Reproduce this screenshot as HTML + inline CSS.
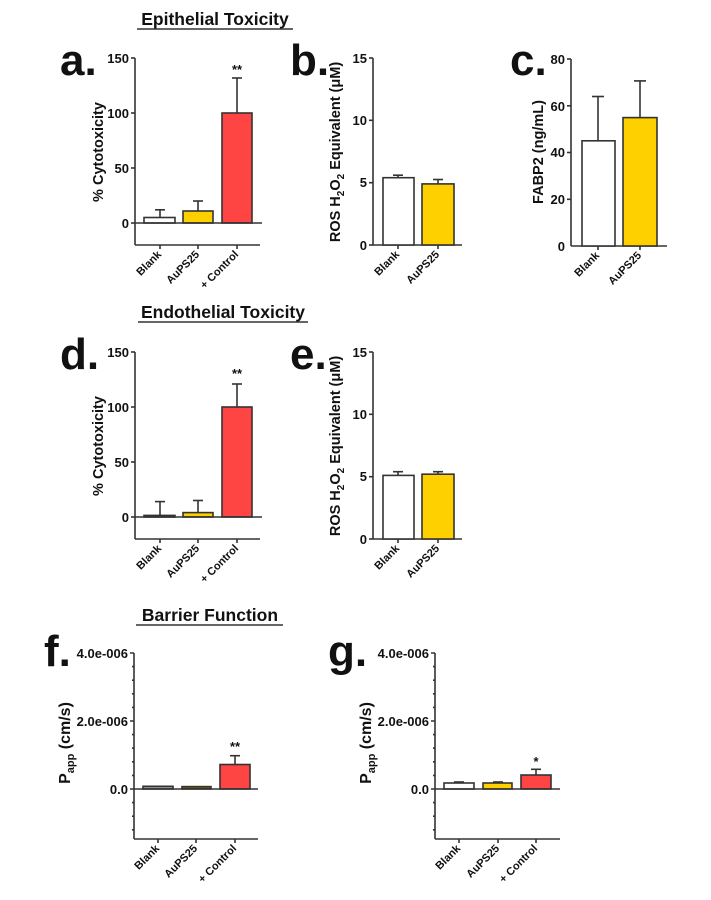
<!DOCTYPE html>
<html><head><meta charset="utf-8"><style>
body{margin:0;background:#fff}
svg{display:block}
text{font-family:"Liberation Sans",sans-serif;font-weight:bold;fill:#111}
.t{font-size:13px}
.x{font-size:11px}
.lab{font-size:44px}
.yt{font-size:14.5px}
.ttl{font-size:17.5px}
line,path,rect{stroke:#333;stroke-width:1.6}
</style></head><body>
<svg width="711" height="900" viewBox="0 0 711 900">
<text class="ttl" x="215" y="25" text-anchor="middle">Epithelial Toxicity</text>
<line x1="137" y1="29" x2="293" y2="29" style="stroke-width:1.4"/>
<text class="ttl" x="223" y="318" text-anchor="middle">Endothelial Toxicity</text>
<line x1="138" y1="322" x2="308" y2="322" style="stroke-width:1.4"/>
<text class="ttl" x="210" y="621" text-anchor="middle">Barrier Function</text>
<line x1="136" y1="625" x2="283" y2="625" style="stroke-width:1.4"/>

<text class="lab" x="60" y="75">a.</text>
<text class="lab" x="290" y="75">b.</text>
<text class="lab" x="510" y="75">c.</text>
<text class="lab" x="60" y="369">d.</text>
<text class="lab" x="290" y="369">e.</text>
<text class="lab" x="44" y="666">f.</text>
<text class="lab" x="328" y="666">g.</text>

<!-- Panel a -->
<g>
<line x1="135" y1="58" x2="135" y2="245"/>
<line x1="135" y1="245" x2="260" y2="245"/>
<line x1="131" y1="58" x2="135" y2="58"/><line x1="131" y1="113" x2="135" y2="113"/><line x1="131" y1="168" x2="135" y2="168"/><line x1="131" y1="223" x2="135" y2="223"/>
<text class="t" x="129" y="63" text-anchor="end">150</text><text class="t" x="129" y="118" text-anchor="end">100</text><text class="t" x="129" y="173" text-anchor="end">50</text><text class="t" x="129" y="228" text-anchor="end">0</text>
<line x1="160" y1="209.8" x2="160" y2="217.5"/><line x1="155" y1="209.8" x2="165" y2="209.8"/>
<rect x="144" y="217.5" width="31" height="5.5" fill="#fff"/>
<line x1="198" y1="201" x2="198" y2="211"/><line x1="193" y1="201" x2="203" y2="201"/>
<rect x="183" y="211" width="30" height="12" fill="#FFD000"/>
<line x1="237" y1="78" x2="237" y2="113"/><line x1="232" y1="78" x2="242" y2="78"/>
<rect x="222" y="113" width="30" height="110" fill="#FF4444"/>
<line x1="135" y1="223" x2="262" y2="223"/>
<text class="t" x="237" y="74" text-anchor="middle">**</text>
<line x1="160" y1="245" x2="160" y2="249"/><line x1="198" y1="245" x2="198" y2="249"/><line x1="237" y1="245" x2="237" y2="249"/>
<text class="x" transform="translate(162,255) rotate(-45)" text-anchor="end">Blank</text>
<text class="x" transform="translate(200,255) rotate(-45)" text-anchor="end">AuPS25</text>
<text class="x" transform="translate(239,255) rotate(-45)" text-anchor="end">+ Control</text>
<text class="yt" transform="translate(103,152) rotate(-90)" text-anchor="middle">% Cytotoxicity</text>
</g>

<!-- Panel b -->
<g>
<line x1="373" y1="58" x2="373" y2="245"/>
<line x1="373" y1="245" x2="462" y2="245"/>
<line x1="369" y1="58" x2="373" y2="58"/><line x1="369" y1="120.3" x2="373" y2="120.3"/><line x1="369" y1="182.7" x2="373" y2="182.7"/><line x1="369" y1="245" x2="373" y2="245"/>
<text class="t" x="367" y="63" text-anchor="end">15</text><text class="t" x="367" y="125" text-anchor="end">10</text><text class="t" x="367" y="187" text-anchor="end">5</text><text class="t" x="367" y="250" text-anchor="end">0</text>
<line x1="398" y1="175.2" x2="398" y2="177.7"/><line x1="393" y1="175.2" x2="403" y2="175.2"/>
<rect x="383" y="177.7" width="31" height="67.3" fill="#fff"/>
<line x1="438" y1="179.5" x2="438" y2="183.9"/><line x1="433" y1="179.5" x2="443" y2="179.5"/>
<rect x="422" y="183.9" width="32" height="61.1" fill="#FFD000"/>
<line x1="398" y1="245" x2="398" y2="249"/><line x1="438" y1="245" x2="438" y2="249"/>
<text class="x" transform="translate(400,255) rotate(-45)" text-anchor="end">Blank</text>
<text class="x" transform="translate(440,255) rotate(-45)" text-anchor="end">AuPS25</text>
<text class="yt" transform="translate(340,152) rotate(-90)" text-anchor="middle">ROS H<tspan dy="4" font-size="10">2</tspan><tspan dy="-4">O</tspan><tspan dy="4" font-size="10">2</tspan><tspan dy="-4">  Equivalent (μM)</tspan></text>
</g>

<!-- Panel c -->
<g>
<line x1="571" y1="59" x2="571" y2="246"/>
<line x1="571" y1="246" x2="667" y2="246"/>
<line x1="567" y1="59" x2="571" y2="59"/><line x1="567" y1="105.8" x2="571" y2="105.8"/><line x1="567" y1="152.5" x2="571" y2="152.5"/><line x1="567" y1="199.3" x2="571" y2="199.3"/>
<text class="t" x="565" y="64" text-anchor="end">80</text><text class="t" x="565" y="111" text-anchor="end">60</text><text class="t" x="565" y="157" text-anchor="end">40</text><text class="t" x="565" y="204" text-anchor="end">20</text><text class="t" x="565" y="251" text-anchor="end">0</text>
<line x1="598" y1="96.5" x2="598" y2="140.8"/><line x1="592" y1="96.5" x2="604" y2="96.5"/>
<rect x="582" y="140.8" width="33" height="105.2" fill="#fff"/>
<line x1="640" y1="80.9" x2="640" y2="117.6"/><line x1="634" y1="80.9" x2="646" y2="80.9"/>
<rect x="623" y="117.6" width="34" height="128.4" fill="#FFD000"/>
<line x1="598" y1="246" x2="598" y2="250"/><line x1="640" y1="246" x2="640" y2="250"/>
<text class="x" transform="translate(600,256) rotate(-45)" text-anchor="end">Blank</text>
<text class="x" transform="translate(642,256) rotate(-45)" text-anchor="end">AuPS25</text>
<text class="yt" transform="translate(543,152) rotate(-90)" text-anchor="middle">FABP2 (ng/mL)</text>
</g>

<!-- Panel d -->
<g>
<line x1="135" y1="352" x2="135" y2="539"/>
<line x1="135" y1="539" x2="260" y2="539"/>
<line x1="131" y1="352" x2="135" y2="352"/><line x1="131" y1="407" x2="135" y2="407"/><line x1="131" y1="462" x2="135" y2="462"/><line x1="131" y1="517" x2="135" y2="517"/>
<text class="t" x="129" y="357" text-anchor="end">150</text><text class="t" x="129" y="412" text-anchor="end">100</text><text class="t" x="129" y="467" text-anchor="end">50</text><text class="t" x="129" y="522" text-anchor="end">0</text>
<line x1="160" y1="501.6" x2="160" y2="515.4"/><line x1="155" y1="501.6" x2="165" y2="501.6"/>
<rect x="144" y="515.4" width="31" height="1.6" fill="#fff"/>
<line x1="198" y1="500.5" x2="198" y2="512.6"/><line x1="193" y1="500.5" x2="203" y2="500.5"/>
<rect x="183" y="512.6" width="30" height="4.4" fill="#FFD000"/>
<line x1="237" y1="384" x2="237" y2="407"/><line x1="232" y1="384" x2="242" y2="384"/>
<rect x="222" y="407" width="30" height="110" fill="#FF4444"/>
<line x1="135" y1="517" x2="262" y2="517"/>
<text class="t" x="237" y="378" text-anchor="middle">**</text>
<line x1="160" y1="539" x2="160" y2="543"/><line x1="198" y1="539" x2="198" y2="543"/><line x1="237" y1="539" x2="237" y2="543"/>
<text class="x" transform="translate(162,549) rotate(-45)" text-anchor="end">Blank</text>
<text class="x" transform="translate(200,549) rotate(-45)" text-anchor="end">AuPS25</text>
<text class="x" transform="translate(239,549) rotate(-45)" text-anchor="end">+ Control</text>
<text class="yt" transform="translate(103,446) rotate(-90)" text-anchor="middle">% Cytotoxicity</text>
</g>

<!-- Panel e -->
<g>
<line x1="373" y1="352" x2="373" y2="539"/>
<line x1="373" y1="539" x2="462" y2="539"/>
<line x1="369" y1="352" x2="373" y2="352"/><line x1="369" y1="414.3" x2="373" y2="414.3"/><line x1="369" y1="476.7" x2="373" y2="476.7"/><line x1="369" y1="539" x2="373" y2="539"/>
<text class="t" x="367" y="357" text-anchor="end">15</text><text class="t" x="367" y="419" text-anchor="end">10</text><text class="t" x="367" y="481" text-anchor="end">5</text><text class="t" x="367" y="544" text-anchor="end">0</text>
<line x1="398" y1="471.7" x2="398" y2="475.4"/><line x1="393" y1="471.7" x2="403" y2="471.7"/>
<rect x="383" y="475.4" width="31" height="63.6" fill="#fff"/>
<line x1="438" y1="471.7" x2="438" y2="474.2"/><line x1="433" y1="471.7" x2="443" y2="471.7"/>
<rect x="422" y="474.2" width="32" height="64.8" fill="#FFD000"/>
<line x1="398" y1="539" x2="398" y2="543"/><line x1="438" y1="539" x2="438" y2="543"/>
<text class="x" transform="translate(400,549) rotate(-45)" text-anchor="end">Blank</text>
<text class="x" transform="translate(440,549) rotate(-45)" text-anchor="end">AuPS25</text>
<text class="yt" transform="translate(340,446) rotate(-90)" text-anchor="middle">ROS H<tspan dy="4" font-size="10">2</tspan><tspan dy="-4">O</tspan><tspan dy="4" font-size="10">2</tspan><tspan dy="-4">  Equivalent (μM)</tspan></text>
</g>

<!-- Panel f -->
<g>
<line x1="134" y1="653" x2="134" y2="839"/>
<line x1="134" y1="839" x2="258" y2="839"/>
<path d="M130 653H134M132 666.6H134M132 680.2H134M132 693.8H134M132 707.4H134M130 721H134M132 734.6H134M132 748.2H134M132 761.8H134M132 775.4H134M130 789H134M132 802.6H134M132 816.2H134M132 829.8H134" fill="none"/>
<text class="t" x="128" y="658" text-anchor="end">4.0e-006</text><text class="t" x="128" y="726" text-anchor="end">2.0e-006</text><text class="t" x="128" y="794" text-anchor="end">0.0</text>
<rect x="143" y="786.3" width="30" height="2.7" fill="#999"/>
<rect x="182" y="786.6" width="29" height="2.4" fill="#806000"/>
<line x1="235" y1="755.7" x2="235" y2="764.5"/><line x1="230" y1="755.7" x2="240" y2="755.7"/>
<rect x="220" y="764.5" width="30" height="24.5" fill="#FF4444"/>
<line x1="134" y1="789" x2="258" y2="789"/>
<text class="t" x="235" y="751" text-anchor="middle">**</text>
<line x1="158" y1="839" x2="158" y2="843"/><line x1="196" y1="839" x2="196" y2="843"/><line x1="235" y1="839" x2="235" y2="843"/>
<text class="x" transform="translate(160,849) rotate(-45)" text-anchor="end">Blank</text>
<text class="x" transform="translate(198,849) rotate(-45)" text-anchor="end">AuPS25</text>
<text class="x" transform="translate(237,849) rotate(-45)" text-anchor="end">+ Control</text>
</g>

<!-- Panel g -->
<g>
<line x1="435" y1="653" x2="435" y2="839"/>
<line x1="435" y1="839" x2="560" y2="839"/>
<path d="M431 653H435M433 666.6H435M433 680.2H435M433 693.8H435M433 707.4H435M431 721H435M433 734.6H435M433 748.2H435M433 761.8H435M433 775.4H435M431 789H435M433 802.6H435M433 816.2H435M433 829.8H435" fill="none"/>
<text class="t" x="429" y="658" text-anchor="end">4.0e-006</text><text class="t" x="429" y="726" text-anchor="end">2.0e-006</text><text class="t" x="429" y="794" text-anchor="end">0.0</text>
<line x1="454" y1="782" x2="464" y2="782"/>
<rect x="444" y="783" width="30" height="6" fill="#fff"/>
<line x1="493" y1="782" x2="503" y2="782"/>
<rect x="483" y="783" width="29" height="6" fill="#FFD000"/>
<line x1="536" y1="769.3" x2="536" y2="775"/><line x1="531" y1="769.3" x2="541" y2="769.3"/>
<rect x="521" y="775" width="30" height="14" fill="#FF4444"/>
<line x1="435" y1="789" x2="560" y2="789"/>
<text class="t" x="536" y="766" text-anchor="middle">*</text>
<line x1="459" y1="839" x2="459" y2="843"/><line x1="498" y1="839" x2="498" y2="843"/><line x1="536" y1="839" x2="536" y2="843"/>
<text class="x" transform="translate(461,849) rotate(-45)" text-anchor="end">Blank</text>
<text class="x" transform="translate(500,849) rotate(-45)" text-anchor="end">AuPS25</text>
<text class="x" transform="translate(538,849) rotate(-45)" text-anchor="end">+ Control</text>
<text class="yt" transform="translate(371,743) rotate(-90)" text-anchor="middle" style="font-size:16px">P<tspan dy="4" font-size="11">app</tspan><tspan dy="-4"> (cm/s)</tspan></text>
</g>
<text class="yt" transform="translate(70,743) rotate(-90)" text-anchor="middle" style="font-size:16px">P<tspan dy="4" font-size="11">app</tspan><tspan dy="-4"> (cm/s)</tspan></text>
</svg>
</body></html>
